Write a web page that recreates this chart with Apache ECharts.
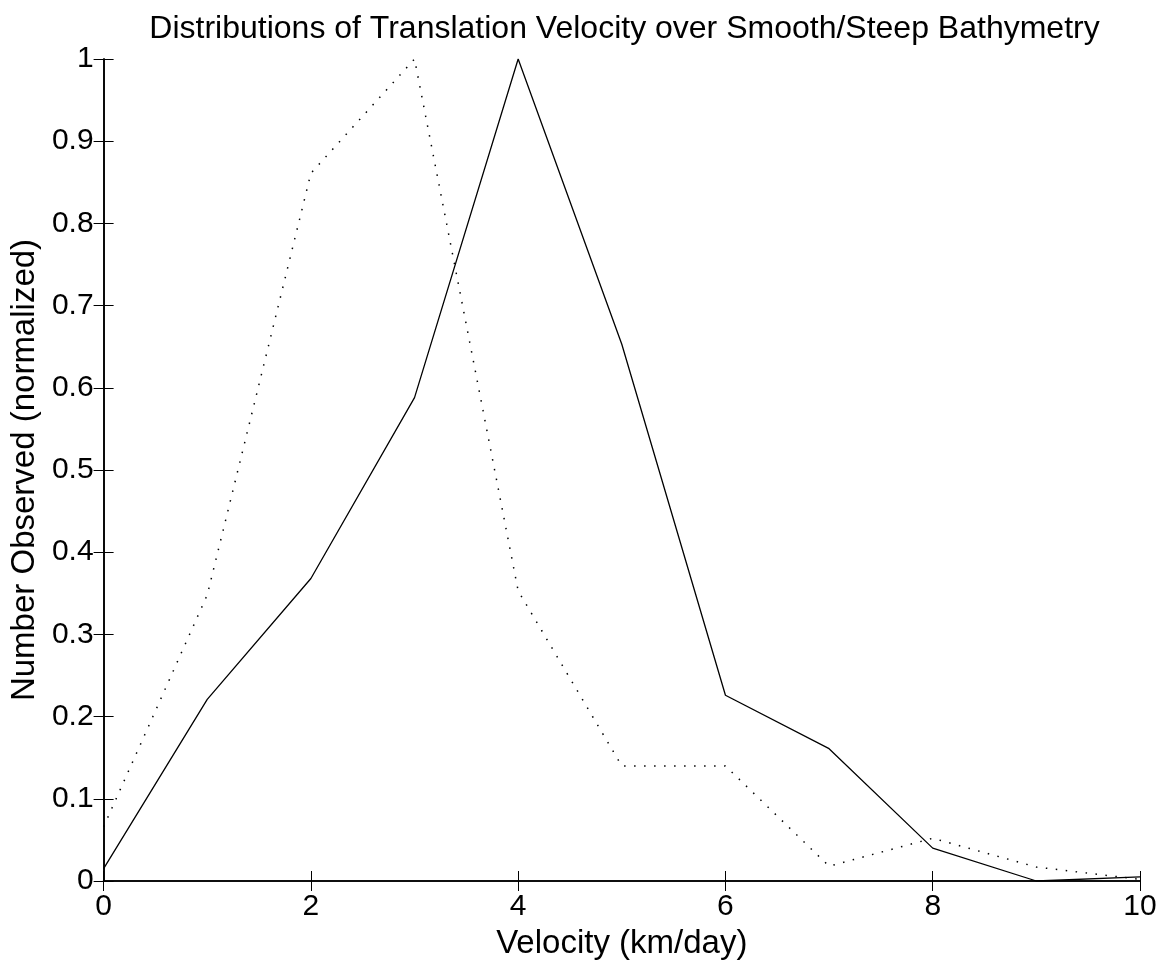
<!DOCTYPE html>
<html>
<head>
<meta charset="utf-8">
<script src="https://cdn.jsdelivr.net/npm/echarts@6/dist/echarts.min.js"></script>
<style>html,body{margin:0;padding:0;background:#fff}#c{width:1171px;height:966px}</style>
</head>
<body>
<div id="c"></div>
<script>
const velocity = [0, 1, 2, 3, 4, 5, 6, 7, 8, 9, 10];
const solidSeries = [0.015, 0.221, 0.368, 0.588, 1.0, 0.653, 0.226, 0.161, 0.040, 0.0, 0.005];
const dottedSeries = [0.066, 0.348, 0.861, 1.0, 0.353, 0.140, 0.140, 0.018, 0.052, 0.017, 0.002];
const titleText = 'Distributions of Translation Velocity over Smooth/Steep Bathymetry';
const xName = 'Velocity (km/day)';
const yName = 'Number Observed (normalized)';

const font = "'Liberation Sans', Arial, Helvetica, sans-serif";
const chart = echarts.init(document.getElementById('c'), null, {renderer: 'canvas'});
const pair = arr => velocity.map((v, i) => [v, arr[i]]);
const axisLine = {show: true, lineStyle: {color: '#000', width: 1.6}};
const tick = {show: true, inside: true, length: 10, lineStyle: {color: '#000', width: 1}};
chart.setOption({
  animation: false,
  backgroundColor: '#fff',
  title: {
    text: titleText, left: 619.5, textAlign: 'center', top: 8,
    textStyle: {fontFamily: font, fontSize: 32, fontWeight: 'normal', color: '#000'}
  },
  grid: {left: 99, right: 31, top: 59, bottom: 85, containLabel: false},
  xAxis: [{
    type: 'value', min: 0, max: 10, interval: 2, position: 'bottom',
    name: xName, nameLocation: 'middle', nameGap: 46,
    nameTextStyle: {fontFamily: font, fontSize: 33, color: '#000'},
    axisLine: axisLine, axisTick: tick, splitLine: {show: false},
    axisLabel: {fontFamily: font, fontSize: 30, color: '#000', margin: 11}
  }, {
    type: 'value', min: 0, max: 10, interval: 2, position: 'top',
    axisLine: axisLine, axisTick: tick, splitLine: {show: false}, axisLabel: {show: false}
  }],
  yAxis: [{
    type: 'value', min: 0, max: 1, interval: 0.1, position: 'left',
    name: yName, nameLocation: 'middle', nameGap: 56,
    nameTextStyle: {fontFamily: font, fontSize: 33, color: '#000'},
    axisLine: axisLine, axisTick: tick, splitLine: {show: false},
    axisLabel: {fontFamily: font, fontSize: 30, color: '#000', margin: 10,
      formatter: v => String(Math.round(v * 10) / 10)}
  }, {
    type: 'value', min: 0, max: 1, interval: 0.1, position: 'right',
    axisLine: axisLine, axisTick: tick, splitLine: {show: false}, axisLabel: {show: false}
  }],
  series: [{
    type: 'line', data: pair(solidSeries), showSymbol: false, symbol: 'none',
    lineStyle: {color: '#000', width: 1.3, type: 'solid'}, z: 3
  }, {
    type: 'line', data: pair(dottedSeries), showSymbol: false, symbol: 'none',
    lineStyle: {color: '#000', width: 1.5, type: [1.5, 8.5]}, z: 3
  }]
});
</script>
</body>
</html>
